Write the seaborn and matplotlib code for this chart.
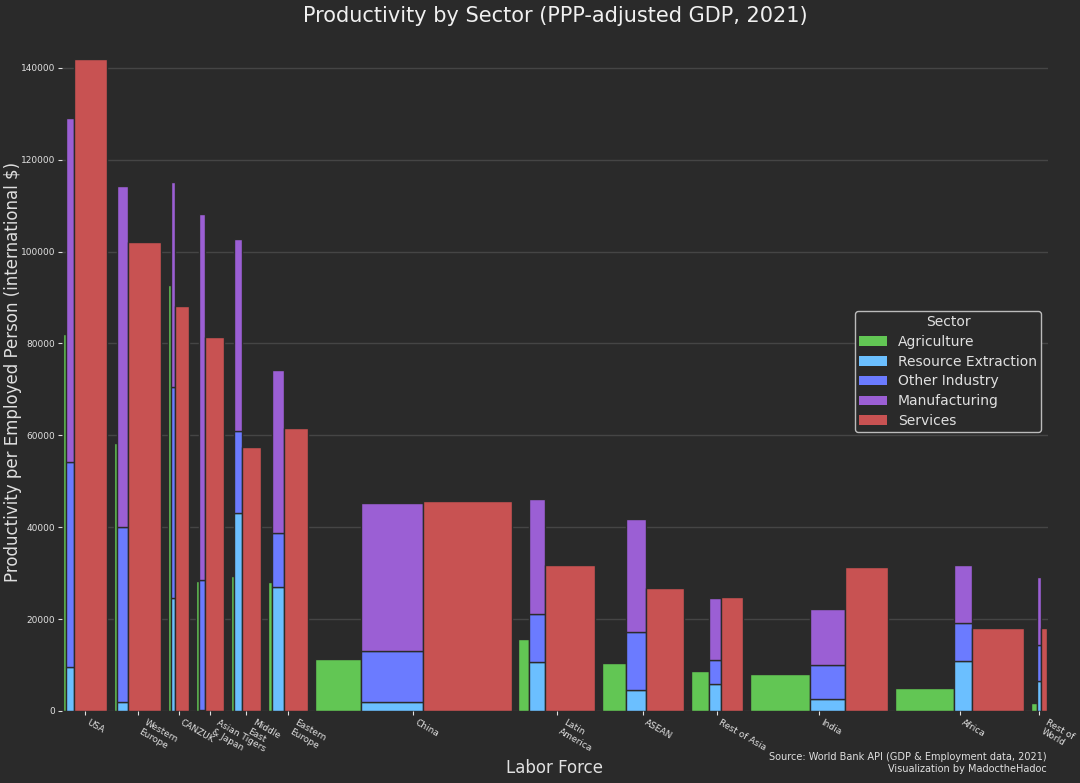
import numpy as np
import pandas as pd
import matplotlib
matplotlib.use('Agg')
import matplotlib.pyplot as plt
from matplotlib.patches import Patch
import seaborn as sns

# Regions and their tick labels
regions = ['USA', 'Western\nEurope', 'CANZUK', 'Asian Tigers\n& Japan', 'Middle\nEast',
           'Eastern\nEurope', 'China', 'Latin\nAmerica', 'ASEAN', 'Rest of Asia',
           'India', 'Africa', 'Rest of\nWorld']

# Employed persons per sector (millions) -> bar widths
emp_agri = [13.4, 12.6, 10.3, 10.3, 11.5, 16.1, 174.9, 40.2, 91.1, 69.7, 231.5, 224.6, 23.7]
emp_industry = [31.4, 40.9, 15.3, 25.3, 31.4, 44.0, 239.2, 62.4, 76.5, 47.8, 132.8, 70.0, 14.5]
emp_services = [126.3, 127.4, 55.9, 71.6, 73.9, 94.9, 337.9, 191.0, 146.2, 83.4, 164.6, 200.2, 24.9]

# Productivity (international $ per employed person)
prod_agri = [82000, 58250, 92700, 28300, 29400, 28100, 11250, 15750, 10500, 8700, 8000, 4950, 1800]
# industry bar is stacked: resource extraction + other industry + manufacturing
prod_resource = [9500, 1900, 24650, 300, 43200, 27050, 2000, 10750, 4650, 5800, 2550, 10800, 6600]
prod_other = [44600, 38200, 45950, 28200, 17800, 11650, 11100, 10300, 12600, 5400, 7550, 8300, 7770]
prod_manuf = [74900, 74200, 44600, 79700, 41700, 35500, 32100, 25100, 24450, 13300, 12100, 12750, 14730]
prod_services = [142000, 102000, 88200, 81500, 57500, 61500, 45800, 31700, 26700, 24750, 31300, 18000, 18070]

region_gap = 25.6

sectors = ['Agriculture', 'Resource Extraction', 'Other Industry', 'Manufacturing', 'Services']
colors = ['#62c654', '#6bbfff', '#6b7bff', '#9b5fd4', '#c85252']
palette = dict(zip(sectors, colors))

bg = '#2a2a2a'
fg = '#e0e0e0'

sns.set_theme(style='dark', rc={
    'figure.facecolor': bg,
    'axes.facecolor': bg,
    'savefig.facecolor': bg,
    'axes.edgecolor': bg,
    'grid.color': '#454545',
    'text.color': fg,
    'axes.labelcolor': fg,
    'xtick.color': fg,
    'ytick.color': fg,
})
plt.rcParams['font.family'] = ['DejaVu Sans']

# Build the table of rectangles
rows = []
centers = []
x = 0.0
for i, reg in enumerate(regions):
    start = x
    rows.append(dict(region=reg, sector='Agriculture', left=x, width=emp_agri[i],
                     bottom=0, height=prod_agri[i]))
    x += emp_agri[i]
    b = 0
    for sec, vals in [('Resource Extraction', prod_resource),
                      ('Other Industry', prod_other),
                      ('Manufacturing', prod_manuf)]:
        rows.append(dict(region=reg, sector=sec, left=x, width=emp_industry[i],
                         bottom=b, height=vals[i]))
        b += vals[i]
    x += emp_industry[i]
    rows.append(dict(region=reg, sector='Services', left=x, width=emp_services[i],
                     bottom=0, height=prod_services[i]))
    x += emp_services[i]
    centers.append((start + x) / 2)
    x += region_gap
total = x - region_gap
df = pd.DataFrame(rows)

fig = plt.figure(figsize=(10.8, 7.83), dpi=100)
ax = fig.add_axes([62 / 1080, 1 - 711 / 783, 986 / 1080, (711 - 32) / 783])
ax.set_axisbelow(True)
ax.yaxis.grid(True, linewidth=1)
ax.xaxis.grid(False)

for sec in sectors:
    d = df[df['sector'] == sec]
    ax.bar(d['left'], d['height'], width=d['width'], bottom=d['bottom'], align='edge',
           color=palette[sec], edgecolor='#2b2b2b', linewidth=1)

ax.set_xlim(-2, total + 2)
ax.set_ylim(0, 147800)
ax.set_yticks(np.arange(0, 140001, 20000))
ax.tick_params(axis='both', which='major', labelsize=6.5, length=3, width=0.8,
               bottom=True, left=True, pad=2)
ax.set_xticks(centers)
ax.set_xticklabels(regions, rotation=-30, ha='left')
sns.despine(ax=ax, left=True, bottom=True)

ax.set_title('Productivity by Sector (PPP-adjusted GDP, 2021)', fontsize=15, color='#f0f0f0', pad=7)
ax.set_xlabel('Labor Force', fontsize=12)
ax.xaxis.set_label_coords(0.5, -0.07)
ax.set_ylabel('Productivity per Employed Person (international $)', fontsize=12)
ax.yaxis.set_label_coords(-0.041, 0.5)

handles = [Patch(facecolor=palette[s], edgecolor='none', label=s) for s in sectors]
leg = ax.legend(handles=handles, title='Sector', loc='center right', fontsize=10,
                title_fontsize=10, facecolor=bg, edgecolor='#bbbbbb', framealpha=1,
                labelspacing=0.42, borderpad=0.3)
for t in leg.get_texts():
    t.set_color(fg)
leg.get_title().set_color(fg)

fig.text(1047 / 1080, 1 - 774 / 783,
         'Source: World Bank API (GDP & Employment data, 2021)\nVisualization by MadoctheHadoc',
         ha='right', va='bottom', fontsize=7, color=fg, multialignment='right')

fig.savefig('out.png', dpi=100, facecolor=bg)
